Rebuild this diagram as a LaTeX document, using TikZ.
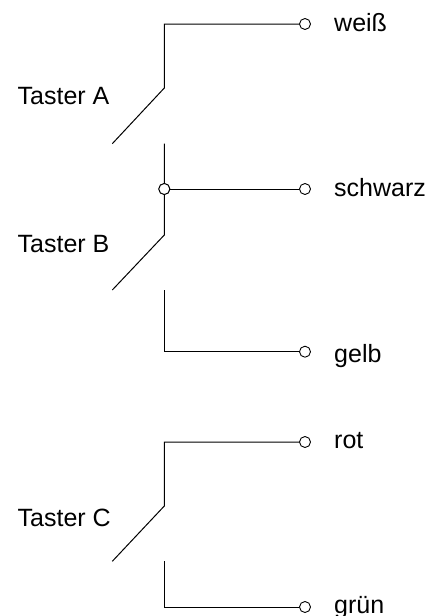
\documentclass[tikz,border=0pt]{standalone}
\usepackage{fontspec}
\setmainfont{Liberation Sans}
\begin{document}
\begin{tikzpicture}[x=1pt,y=-1pt,
  wire/.style={line width=1pt,black},
  term/.style={circle,draw=black,line width=0.9pt,fill=white,inner sep=0pt,minimum size=11pt},
  lab/.style={anchor=base west,inner sep=0pt,font=\fontsize{25}{29}\selectfont}]
\useasboundingbox (0,0) rectangle (431,616);
\node[term] (w) at (305,24) {};
\node[term] (s) at (305,189) {};
\node[term] (g) at (305,351.7) {};
\node[term] (r) at (305,442) {};
\node[term] (n) at (305,607) {};
\node[term] (j) at (164.3,189) {};
\coordinate (a1) at (164.3,24);
\coordinate (a2) at (164.3,88);
\coordinate (a3) at (112.3,143.7);
\coordinate (b1) at (164.3,143.7);
\coordinate (b2) at (164.3,235);
\coordinate (b3) at (112.3,290);
\coordinate (g1) at (164.3,290);
\coordinate (g2) at (164.3,351.7);
\coordinate (r1) at (164.3,442);
\coordinate (r2) at (164.3,506);
\coordinate (r3) at (112.3,561.3);
\coordinate (n1) at (164.3,561.3);
\coordinate (n2) at (164.3,607);
\draw[wire] (w) -- (a1) -- (a2) -- (a3);
\draw[wire] (b1) -- (b2) -- (b3);
\draw[wire] (j) -- (s);
\draw[wire] (g1) -- (g2) -- (g);
\draw[wire] (r) -- (r1) -- (r2) -- (r3);
\draw[wire] (n1) -- (n2) -- (n);
\node[term] at (j) {};
\node[lab] (lw) at (334,31) {weiß};
\node[lab] (ls) at (334,196.7) {schwarz};
\node[lab] (lg) at (334,362) {gelb};
\node[lab] (lr) at (334,448.7) {rot};
\node[lab] (ln) at (334,613.5) {grün};
\node[lab] (ta) at (17.5,104) {Taster A};
\node[lab] (tb) at (17.5,252) {Taster B};
\node[lab] (tc) at (17.5,526) {Taster C};
\end{tikzpicture}
\end{document}
